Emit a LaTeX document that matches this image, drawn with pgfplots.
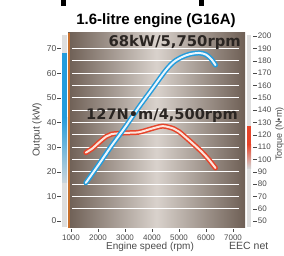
\documentclass[border=0pt]{standalone}
\usepackage{pgfplots}
\pgfplotsset{compat=1.18}
\usepackage{fontspec}
\setmainfont{Liberation Sans}
\newfontfamily\annotfont{DejaVu Sans}
\definecolor{bgdark}{HTML}{6E5F55}
\definecolor{bglight}{HTML}{D9D2CC}
\definecolor{pblue}{HTML}{239CDC}
\definecolor{pinner}{HTML}{EAF6FD}
\definecolor{tred}{HTML}{E6442A}
\definecolor{tinner}{HTML}{FDE4DC}
\definecolor{lab}{HTML}{4A4A4A}
\definecolor{strip}{HTML}{DEDEDE}
\definecolor{barbot}{HTML}{D2D2D2}
\definecolor{bluebot}{HTML}{CBD5DC}
\definecolor{edgeorange}{HTML}{C8702C}
\definecolor{annot}{HTML}{2A2522}
\begin{document}
\begin{tikzpicture}
\useasboundingbox (0pt,0pt) rectangle (284pt,-256pt);
\fill[black] (61pt,0pt) rectangle (66pt,-6pt);
\fill[black] (199pt,0pt) rectangle (204pt,-6pt);
\node[font=\fontsize{15}{17}\selectfont\bfseries, anchor=base, inner sep=0pt] at (156pt,-25pt) {1.6-litre engine (G16A)};

% ---- torque axis (drawn first, carries background) ----
\begin{axis}[
  at={(68pt,-228pt)}, anchor=south west,
  scale only axis, width=177pt, height=195pt,
  xmin=889, xmax=7444, ymin=44.3, ymax=202.6,
  clip=false,
  axis line style={draw=none},
  axis background/.style={left color=bgdark, right color=bgdark, middle color=bglight},
  xtick=\empty,
  ytick={50,60,...,200},
  ytick pos=right, yticklabel pos=right,
  major tick length=0pt,
  yticklabel={\rule[0.28em]{4pt}{0.6pt}\hspace{0.8pt}\pgfmathprintnumber{\tick}},
  yticklabel style={anchor=west, inner sep=0pt, xshift=8pt, font=\fontsize{8}{9}\selectfont, text=lab},
  /pgf/number format/assume math mode=true,
]
\pgfplotsinvokeforeach{60,70,...,190}{
  \draw[white, line width=0.9pt] (axis cs:1040,#1) -- (axis cs:7230,#1);
}
\fill[strip] ([xshift=2pt]axis cs:7444,45.1) rectangle ([xshift=6pt]axis cs:7444,201);
\fill[tred] ([xshift=2pt]axis cs:7444,112) rectangle ([xshift=6pt]axis cs:7444,127);
\shade[top color=tred, bottom color=barbot] ([xshift=2pt]axis cs:7444,93) rectangle ([xshift=6pt]axis cs:7444,112.2);
\draw[edgeorange, line width=2pt] ([xshift=1pt]rel axis cs:0,0) -- ([xshift=1pt]rel axis cs:0,1);
\addplot[tred, line width=5pt, line cap=round, line join=round, smooth] coordinates {
(1550,105.5) (1800,109) (2000,113) (2300,118.5) (2500,120.5) (3000,121.5) (3500,122) (4000,125) (4400,127) (4800,125) (5000,122.5) (5400,115) (5800,107) (6100,100) (6350,93)
};
\addplot[tinner, line width=2pt, line cap=round, line join=round, smooth] coordinates {
(1550,105.5) (1800,109) (2000,113) (2300,118.5) (2500,120.5) (3000,121.5) (3500,122) (4000,125) (4400,127) (4800,125) (5000,122.5) (5400,115) (5800,107) (6100,100) (6350,93)
};
\end{axis}

% ---- power axis ----
\begin{axis}[
  at={(68pt,-228pt)}, anchor=south west,
  scale only axis, width=177pt, height=195pt,
  xmin=889, xmax=7444, ymin=-2.84, ymax=76.3,
  clip=false,
  axis line style={draw=none},
  xtick={1000,2000,...,7000},
  ytick={0,10,...,70},
  ytick pos=left, xtick pos=bottom,
  major tick length=0pt,
  yticklabel={\pgfmathprintnumber{\tick}\hspace{1pt}\rule[0.28em]{4pt}{0.6pt}},
  yticklabel style={anchor=east, inner sep=0pt, xshift=-6.5pt, font=\fontsize{8.5}{9}\selectfont, text=lab},
  xticklabel={\shortstack{\rule{0.5pt}{2.5pt}\\\pgfmathprintnumber{\tick}}},
  xticklabel style={anchor=north, inner sep=0pt, yshift=-1pt, font=\fontsize{8}{9}\selectfont, text=lab},
  /pgf/number format/1000 sep={},
  /pgf/number format/assume math mode=true,
]
\fill[strip] ([xshift=-6pt]axis cs:889,-2.4) rectangle ([xshift=-1pt]axis cs:889,75.5);
\fill[pblue] ([xshift=-6pt]axis cs:889,42) rectangle ([xshift=-1pt]axis cs:889,68);
\shade[top color=pblue, bottom color=bluebot] ([xshift=-6pt]axis cs:889,15.5) rectangle ([xshift=-1pt]axis cs:889,42.2);
\addplot[pblue, line width=5pt, line cap=round, line join=round, smooth] coordinates {
(1550,15.5) (2000,22.5) (2500,30.5) (3000,38) (3500,46) (4000,53.5) (4500,61) (4800,64.5) (5100,66.5) (5400,67.7) (5750,68.2) (6000,67.5) (6200,65.6) (6350,63.3)
};
\addplot[pinner, line width=2pt, line cap=round, line join=round, smooth] coordinates {
(1550,15.5) (2000,22.5) (2500,30.5) (3000,38) (3500,46) (4000,53.5) (4500,61) (4800,64.5) (5100,66.5) (5400,67.7) (5750,68.2) (6000,67.5) (6200,65.6) (6350,63.3)
};
\end{axis}

\node[rotate=90, inner sep=0pt, font=\fontsize{9}{10}\selectfont, text=lab] at (279.6pt,-134pt) {Torque (N•m)};
\node[rotate=90, font=\fontsize{10}{12}\selectfont, text=lab] at (37pt,-130pt) {Output (kW)};
\node[anchor=base, inner sep=0pt, font=\fontsize{10}{12}\selectfont, text=lab] at (150pt,-250pt) {Engine speed (rpm)};
\node[anchor=base west, inner sep=0pt, font=\fontsize{10.5}{12}\selectfont, text=lab] at (229pt,-250pt) {EEC net};
\node[anchor=base east, inner sep=0pt, font=\annotfont\bfseries\fontsize{14.8}{16}\selectfont, text=annot] at (241pt,-47pt) {68kW/5,750rpm};
\node[anchor=base east, inner sep=0pt, font=\annotfont\bfseries\fontsize{14.6}{16}\selectfont, text=annot] at (238pt,-120pt) {127N•m/4,500rpm};
\end{tikzpicture}
\end{document}
